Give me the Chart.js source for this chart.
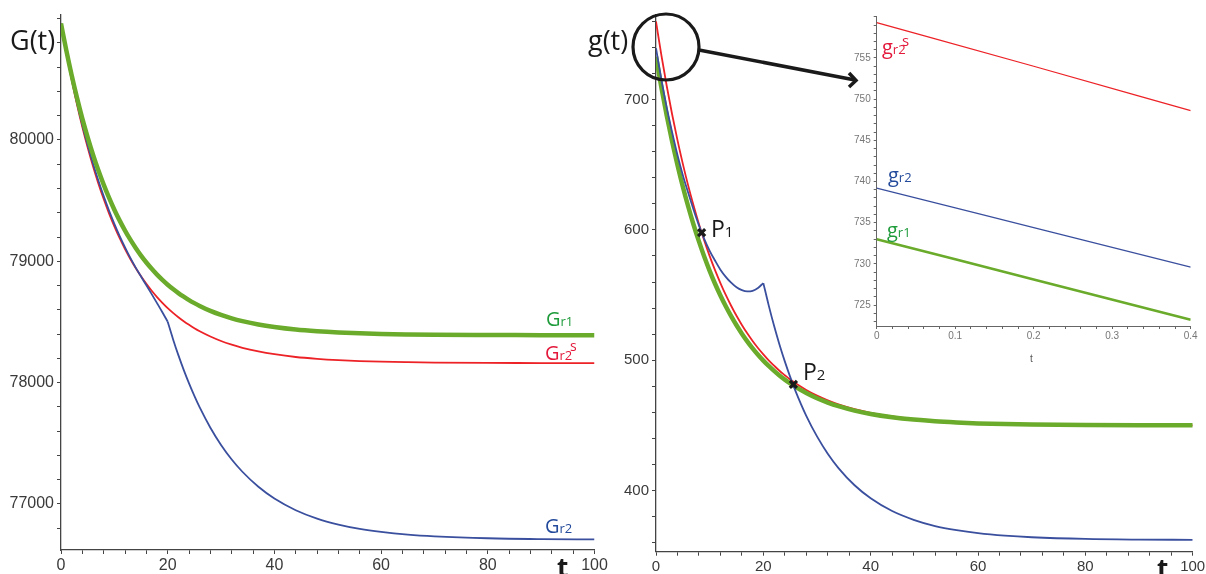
<!DOCTYPE html>
<html>
<head>
<meta charset="utf-8">
<script src="https://cdn.jsdelivr.net/npm/chart.js@4.4.1/dist/chart.umd.min.js"></script>
<style>
  html, body { margin: 0; padding: 0; background: #fff; overflow: hidden; }
  #wrap { position: relative; width: 1206px; height: 574px; }
  canvas { position: absolute; top: 0; }
  svg { position: absolute; left: 0; top: 0; }
</style>
</head>
<body>
<div id="wrap">
  <canvas id="left" width="620" height="574" style="left:0"></canvas>
  <canvas id="right" width="606" height="574" style="left:600px"></canvas>
  <canvas id="inset" width="386" height="380" style="left:820px"></canvas>
  <svg width="1206" height="574" font-family="'Open Sans', sans-serif">
    <text x="10" y="50" font-size="27" fill="#1a1a1a">G(t)</text>
    <text x="588" y="50" font-size="27" fill="#1a1a1a">g(t)</text>
    <text x="557" y="577" font-size="26" font-weight="bold" fill="#1a1a1a">t</text>
    <text x="1157" y="578" font-size="26" font-weight="bold" fill="#1a1a1a">t</text>
    <text x="1030" y="362" font-size="10" fill="#555" font-family="'Liberation Sans', sans-serif">t</text>

    <text x="546" y="326" fill="#1e9b3a"><tspan font-size="20">G</tspan><tspan font-size="13">r1</tspan></text>
    <text x="545" y="360" fill="#e3183a"><tspan font-size="20">G</tspan><tspan font-size="13">r2</tspan><tspan x="570" y="351" font-size="14">s</tspan></text>
    <text x="545" y="533" fill="#234a9b"><tspan font-size="20">G</tspan><tspan font-size="13">r2</tspan></text>

    <text x="882" y="54" fill="#e3183a"><tspan font-size="20">g</tspan><tspan font-size="13">r2</tspan><tspan x="902" y="46" font-size="15">s</tspan></text>
    <text x="888" y="182" fill="#234a9b"><tspan font-size="20">g</tspan><tspan font-size="13">r2</tspan></text>
    <text x="887" y="237" fill="#1e9b3a"><tspan font-size="20">g</tspan><tspan font-size="13">r1</tspan></text>

    <text x="711" y="237" fill="#1a1a1a"><tspan font-size="23">P</tspan><tspan font-size="15">1</tspan></text>
    <text x="803" y="380" fill="#1a1a1a"><tspan font-size="23">P</tspan><tspan font-size="15">2</tspan></text>

    <circle cx="666" cy="47" r="33" fill="none" stroke="#1a1a1a" stroke-width="3.2"/>
    <line x1="699" y1="50" x2="855" y2="80" stroke="#1a1a1a" stroke-width="3.5"/>
    <polyline points="849,73 856,80.5 849,87" fill="none" stroke="#1a1a1a" stroke-width="3.5"/>
  </svg>
</div>
<script>
// time points shared by both big panels
var tValues = [0,1,2,3,4,5,6,7,8,9,10,11,12,13,14,15,16,17,18,19,20,21,22,23,24,25,26,28,30,32,34,37,40,44,48,52,56,60,65,70,80,90,100];

// left panel G(t)
var bigGr1 = [80960,80737,80533,80347,80176,80021,79879,79750,79632,79524,79425,79335,79253,79178,79110,79047,78990,78938,78890,78847,78807,78771,78738,78708,78680,78655,78632,78591,78558,78530,78507,78479,78458,78437,78423,78413,78406,78401,78397,78394,78392,78391,78390];
var bigGr2s = [80960,80717,80495,80292,80106,79937,79783,79642,79513,79395,79288,79190,79101,79019,78944,78876,78814,78757,78705,78658,78614,78575,78539,78506,78476,78448,78423,78380,78343,78313,78287,78257,78234,78211,78196,78185,78177,78172,78168,78165,78162,78161,78160];
var bigGr2 = [80960,80722,80505,80306,80124,79958,79806,79666,79537,79418,79309,79208,79115,79028,78948,78874,78802,78729,78655,78580,78502,78358,78226,78105,77993,77890,77795,77628,77486,77366,77265,77141,77044,76948,76879,76830,76794,76769,76747,76733,76717,76710,76707];

// right panel g(t)
var smallGr1 = [733,709.4,687.8,668.0,649.9,633.2,618.0,604.0,591.2,579.4,568.6,558.7,549.7,541.4,533.8,526.8,520.4,514.5,509.1,504.2,499.7,495.6,491.8,488.3,485.1,482.2,479.5,474.8,470.8,467.5,464.7,461.3,458.7,456.2,454.4,453.1,452.2,451.5,451.0,450.7,450.3,450.1,450.0];
var smallGr2s = [760,734.2,710.5,688.8,668.9,650.7,634.0,618.7,604.6,591.7,579.9,569.1,559.2,550.1,541.8,534.1,527.1,520.7,514.8,509.4,504.5,499.9,495.8,491.9,488.5,485.2,482.3,477.2,472.8,469.2,466.1,462.4,459.6,456.8,454.8,453.4,452.4,451.7,451.1,450.7,450.3,450.1,450.0];
var smallGr2 = [739.5,715.5,694,675,657.5,642,628.5,615.5,603.5,593,584,576.5,569.5,564,559.5,556,553.8,552.8,553.3,555.5,559.2,542.1,526.4,512.1,499.1,487.2,476.3,457.3,441.5,428.2,417.2,404.0,394.0,384.2,377.5,372.7,369.5,367.2,365.3,364.1,362.8,362.3,362.1];
var switchT = 20;

// crossing points P1, P2
var markerT = [8.5, 25.6];
var markerG = [598, 481.5];

// zoomed inset
var insetT = [0, 0.2, 0.4];
var insetGr1 = [733.0, 728.1, 723.2];
var insetGr2 = [739.2, 734.4, 729.6];
var insetGr2s = [759.3, 754.0, 748.6];

// tick labels
var leftYLabels = [77000, 78000, 79000, 80000];
var rightYLabels = [400, 500, 600, 700];
var tLabels = [0, 20, 40, 60, 80, 100];
var insetYLabels = [725, 730, 735, 740, 745, 750, 755];
var insetTLabels = [0, 0.1, 0.2, 0.3, 0.4];

var GREEN = '#6aab2b', RED = '#ec2227', BLUE = '#3a4f9e';

Chart.defaults.font.family = '"Liberation Sans", Arial, sans-serif';
Chart.defaults.animation = false;

function pts(ts, vs, from, to) {
  var out = [];
  for (var i = 0; i < ts.length; i++) {
    if (ts[i] >= from && ts[i] <= to) out.push({x: ts[i], y: vs[i]});
  }
  return out;
}

function steps(a, b, step) {
  var out = [];
  var n = Math.round((b - a) / step);
  for (var i = 0; i <= n; i++) out.push(+(a + i * step).toFixed(6));
  return out;
}

function isIn(list, v) {
  return list.some(function (m) { return Math.abs(m - v) < 1e-6; });
}

function line(data, color, width, order) {
  return {
    data: data, borderColor: color, borderWidth: width, pointRadius: 0,
    fill: false, cubicInterpolationMode: 'monotone', order: order
  };
}

function axis(o) {
  return {
    type: 'linear', min: o.min, max: o.max,
    border: {color: o.color, width: o.bw},
    grid: {drawOnChartArea: false, tickLength: o.tl, tickColor: o.color, tickWidth: 1},
    ticks: {
      autoSkip: false, maxRotation: 0, padding: o.pad, color: o.labelColor,
      font: {size: o.fs},
      callback: function (v) { return isIn(o.labels, v) ? o.fmt(v) : ''; }
    },
    afterBuildTicks: function (s) {
      s.ticks = o.ticks.map(function (v) { return {value: v}; });
    },
    afterFit: function (s) {
      if (s.isHorizontal()) s.height = o.size; else s.width = o.size;
      s.paddingLeft = 0; s.paddingRight = 0; s.paddingTop = 0; s.paddingBottom = 0;
    }
  };
}

var noPlugins = {legend: {display: false}, tooltip: {enabled: false}};

new Chart(document.getElementById('left'), {
  type: 'line',
  data: {datasets: [
    line(pts(tValues, bigGr1, 0, 100), GREEN, 4.5, 1),
    line(pts(tValues, bigGr2, 0, switchT), BLUE, 1.8, 2),
    line(pts(tValues, bigGr2, switchT, 100), BLUE, 1.8, 2),
    line(pts(tValues, bigGr2s, 0, 100), RED, 1.8, 3)
  ]},
  options: {
    responsive: false, animation: false,
    layout: {padding: {top: 15, right: 25.5, bottom: 0, left: 0}},
    plugins: noPlugins,
    scales: {
      x: axis({min: 0, max: 100, ticks: steps(0, 100, 4), labels: tLabels, fmt: String,
        color: '#444', bw: 1.3, tl: 4, pad: 2, fs: 16, labelColor: '#3a3a3a', size: 24}),
      y: axis({min: 76620, max: 81030, ticks: steps(76800, 81000, 200), labels: leftYLabels, fmt: String,
        color: '#444', bw: 1.3, tl: 4, pad: 3, fs: 16, labelColor: '#3a3a3a', size: 61})
    }
  }
});

var markers = markerT.map(function (t, i) { return {x: t, y: markerG[i]}; });

new Chart(document.getElementById('right'), {
  type: 'line',
  data: {datasets: [
    {data: markers, showLine: false, pointStyle: 'crossRot', pointRadius: 5, pointBorderWidth: 3.2,
      borderColor: '#1a1a1a', backgroundColor: '#1a1a1a', order: 0},
    line(pts(tValues, smallGr2, 0, switchT), BLUE, 1.8, 1),
    line(pts(tValues, smallGr2, switchT, 100), BLUE, 1.8, 1),
    line(pts(tValues, smallGr1, 0, 100), GREEN, 4.5, 2),
    line(pts(tValues, smallGr2s, 0, 100), RED, 1.8, 3)
  ]},
  options: {
    responsive: false, animation: false,
    layout: {padding: {top: 15, right: 13.3, bottom: 0, left: 0}},
    plugins: noPlugins,
    scales: {
      x: axis({min: 0, max: 100, ticks: steps(0, 100, 4), labels: tLabels, fmt: String,
        color: '#444', bw: 1.3, tl: 4, pad: 2, fs: 15, labelColor: '#3a3a3a', size: 22.3}),
      y: axis({min: 353, max: 765, ticks: steps(360, 760, 20), labels: rightYLabels, fmt: String,
        color: '#444', bw: 1.3, tl: 4, pad: 3, fs: 15, labelColor: '#3a3a3a', size: 56})
    }
  }
});

new Chart(document.getElementById('inset'), {
  type: 'line',
  data: {datasets: [
    line(pts(insetT, insetGr2s, 0, 1), RED, 1.2, 1),
    line(pts(insetT, insetGr2, 0, 1), BLUE, 1.2, 2),
    line(pts(insetT, insetGr1, 0, 1), GREEN, 2.6, 3)
  ]},
  options: {
    responsive: false, animation: false,
    layout: {padding: {top: 16, right: 15.3, bottom: 0, left: 0}},
    plugins: noPlugins,
    scales: {
      x: axis({min: 0, max: 0.4, ticks: steps(0, 0.4, 0.02), labels: insetTLabels,
        fmt: function (v) { return v === 0 ? '0' : v.toFixed(1); },
        color: '#666', bw: 1, tl: 3, pad: 1, fs: 10, labelColor: '#777', size: 54}),
      y: axis({min: 722.45, max: 760.1, ticks: steps(723, 760, 1), labels: insetYLabels, fmt: String,
        color: '#666', bw: 1, tl: 3, pad: 3, fs: 10, labelColor: '#777', size: 56.7})
    }
  }
});
</script>
</body>
</html>
